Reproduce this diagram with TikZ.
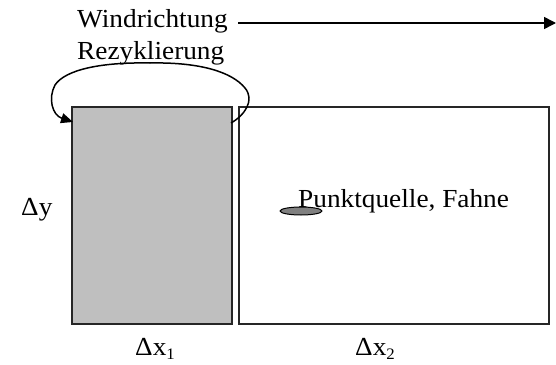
\documentclass[tikz,border=0pt]{standalone}
\usepackage{fontspec}
\setmainfont{Liberation Serif}[FakeStretch=1.05]
\usetikzlibrary{arrows.meta,shapes.geometric}
\newcommand{\lowsub}[1]{\raisebox{-0.18em}{\fontsize{16}{18}\selectfont #1}}
\begin{document}
\begin{tikzpicture}[x=1pt,y=-1pt,
  lbl/.style={inner sep=0pt,anchor=base west,font=\fontsize{26}{29}\selectfont},
  boxline/.style={draw=black!85,line width=1.7pt},
  conn/.style={draw=black,line width=1.5pt}]
\useasboundingbox (0,0) rectangle (556,364);
% boxes
\node[boxline,fill=black!25,minimum width=160pt,minimum height=217pt,inner sep=0pt,anchor=north west] (g) at (71,106) {};
\node[boxline,fill=white,minimum width=310pt,minimum height=217pt,inner sep=0pt,anchor=north west] (w) at (238,106) {};
% labels
\node[lbl] (wind) at (77,27) {Windrichtung};
\node[lbl] (rez) at (77,59) {Rezyklierung};
\node[lbl] (dy) at (21,215) {Δy};
\node[lbl] (dx1) at (135,355) {Δx\lowsub{1}};
\node[lbl] (dx2) at (355,355) {Δx\lowsub{2}};
\node[lbl] (pq) at (298,207) {Punktquelle, Fahne};
% point source
\node[draw=black,line width=1pt,fill=black!50,ellipse,minimum width=42pt,minimum height=8pt,inner sep=0pt] (src) at (301,211) {};
% wind arrow
\coordinate (wend) at (556,23);
\coordinate (wstart) at (238,23);
\draw[conn,-{Triangle[length=12pt,width=12pt]}] (wstart) -- (wend);
% recycling loop
\coordinate (ls) at (231,123);
\coordinate (le) at (73,122);
\draw[conn,-{Triangle[length=12pt,width=10pt]}] (ls)
  .. controls (245,115) and (255,100) .. (245,88)
  .. controls (232,72) and (200,62) .. (150,63)
  .. controls (100,62) and (65,70) .. (55,85)
  .. controls (48,98) and (52,115) .. (le);
\end{tikzpicture}
\end{document}
